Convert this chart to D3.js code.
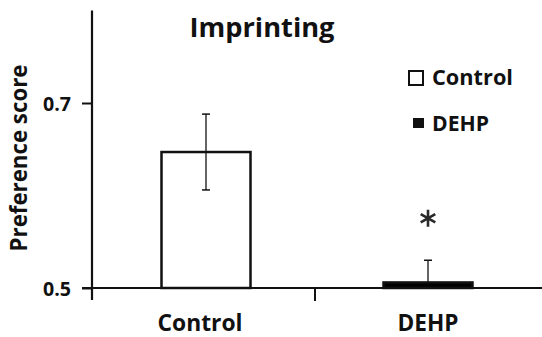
<!DOCTYPE html>
<html><head><meta charset="utf-8">
<script src="https://cdn.jsdelivr.net/npm/d3@7"></script>
<style>body{margin:0;background:#fff}svg{display:block}text{font-family:"Open Sans",Lato,sans-serif;font-weight:bold;fill:#111}</style>
</head><body>
<script>
const categories = ["Control", "DEHP"];
const values = [0.647, 0.506];
const errors = [0.041, 0.024];
const fills = ["#ffffff", "#000000"];
const yTicks = [0.5, 0.7];
const title = "Imprinting";
const yLabel = "Preference score";

const W = 542, H = 337;
const svg = d3.select("body").append("svg").attr("width", W).attr("height", H);
const x = d3.scaleBand().domain(categories).range([95, 539]).paddingInner(0).paddingOuter(0);
const y = d3.scaleLinear().domain([0.5, 0.8]).range([288, 10.5]);
const barW = 89;

// fit text to a target width
function fit(sel, width) {
  sel.style("font-size", "20px");
  const w = sel.node().getComputedTextLength();
  sel.style("font-size", (20 * width / w).toFixed(2) + "px");
  return sel;
}

// axes
const yAxis = svg.append("g").attr("transform", "translate(92,0)")
  .call(d3.axisLeft(y).tickValues(yTicks).tickFormat(d3.format(".1f")).tickSize(10).tickSizeOuter(0));
yAxis.select(".domain").attr("d", `M0,${y(0.8)}V300`).attr("stroke", "#111").attr("stroke-width", 2.2);
yAxis.selectAll(".tick line").attr("stroke", "#111").attr("stroke-width", 2);
yAxis.selectAll(".tick text").attr("x", -21).attr("dy", "0.36em").each(function () { fit(d3.select(this), 28); });

const xAxis = svg.append("g").attr("transform", `translate(0,${y(0.5)})`)
  .call(d3.axisBottom(x).tickSize(0).tickSizeOuter(0));
xAxis.select(".domain").attr("d", `M82,0H${W}`).attr("stroke", "#111").attr("stroke-width", 2);
const xLabelW = [85, 61];
xAxis.selectAll(".tick text").attr("y", 43).attr("dy", 0).each(function (d, i) { fit(d3.select(this), xLabelW[i]); });
xAxis.selectAll(".tick").filter(d => d === "Control").select("text").attr("x", -6);
// middle tick between categories
xAxis.append("line").attr("x1", x.range()[0] + x.step() - 2).attr("x2", x.range()[0] + x.step() - 2)
  .attr("y1", 0).attr("y2", 13).attr("stroke", "#111").attr("stroke-width", 2);

// bars
svg.selectAll("rect.bar").data(categories).join("rect").attr("class", "bar")
  .attr("x", d => x(d) + x.bandwidth() / 2 - barW / 2)
  .attr("width", barW)
  .attr("y", (d, i) => y(values[i]))
  .attr("height", (d, i) => y(0.5) - y(values[i]))
  .attr("fill", (d, i) => fills[i])
  .attr("stroke", "#111").attr("stroke-width", 2.5);

// error bars
categories.forEach((c, i) => {
  const cx = x(c) + x.bandwidth() / 2;
  const lo = i === 0 ? values[i] - errors[i] : values[i];
  const hi = values[i] + errors[i];
  svg.append("line").attr("x1", cx).attr("x2", cx).attr("y1", y(lo)).attr("y2", y(hi)).attr("stroke", "#111").attr("stroke-width", 1.3);
  svg.append("line").attr("x1", cx - 4).attr("x2", cx + 4).attr("y1", y(hi)).attr("y2", y(hi)).attr("stroke", "#111").attr("stroke-width", 1.5);
  if (i === 0) svg.append("line").attr("x1", cx - 4).attr("x2", cx + 4).attr("y1", y(lo)).attr("y2", y(lo)).attr("stroke", "#111").attr("stroke-width", 1.5);
});

// asterisk (significance marker)
svg.append("path")
  .attr("transform", `translate(${x("DEHP") + x.bandwidth() / 2},${y(values[1] + errors[1]) - 42})`)
  .attr("d", d3.symbol(d3.symbolAsterisk, 200)())
  .attr("fill", "none").attr("stroke", "#2a2a2a").attr("stroke-width", 2.6);

// title
fit(svg.append("text").attr("x", 262).attr("y", 37).attr("text-anchor", "middle").text(title), 145);

// y label
fit(svg.append("text").attr("transform", "translate(27,158) rotate(-90)").attr("text-anchor", "middle").text(yLabel), 187);

// legend
const legend = svg.append("g");
legend.append("rect").attr("x", 409).attr("y", 71).attr("width", 14).attr("height", 14).attr("fill", "#fff").attr("stroke", "#111").attr("stroke-width", 2);
fit(legend.append("text").attr("x", 432).attr("y", 85).text(categories[0]), 81);
legend.append("rect").attr("x", 413).attr("y", 118).attr("width", 11).attr("height", 10).attr("fill", "#111");
fit(legend.append("text").attr("x", 432).attr("y", 131).text(categories[1]), 57);
</script>
</body></html>
